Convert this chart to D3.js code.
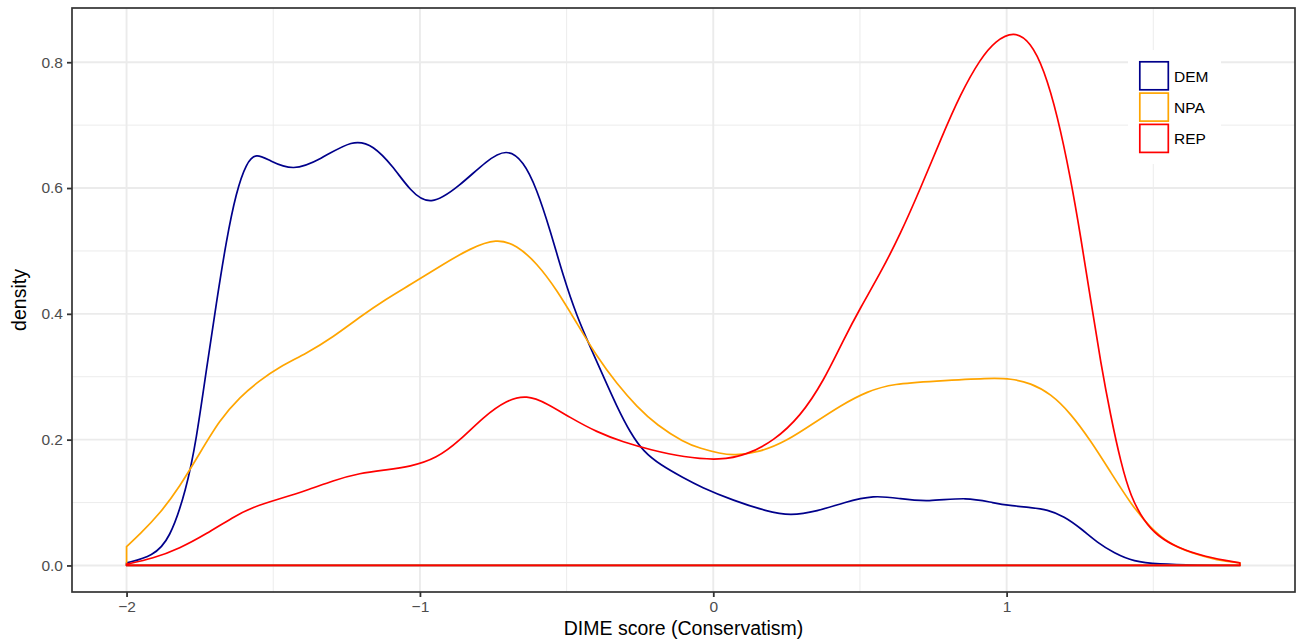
<!DOCTYPE html>
<html>
<head>
<meta charset="utf-8">
<script src="https://cdn.jsdelivr.net/npm/d3@7"></script>
<style>
  body { margin: 0; background: #fff; }
  text { font-family: "Liberation Sans", Arial, Helvetica, sans-serif; }
</style>
</head>
<body>
<svg id="chart" width="1298" height="642"></svg>
<script>
// density estimates, per party
var demX = [-2.0, -1.91, -1.853, -1.796, -1.762, -1.728, -1.694, -1.66, -1.626, -1.592,
  -1.558, -1.512, -1.432, -1.341, -1.228, -1.159, -1.091, -1.034, -0.966, -0.863,
  -0.772, -0.704, -0.647, -0.602, -0.556, -0.511, -0.465, -0.42, -0.374, -0.329,
  -0.283, -0.238, -0.181, -0.101, -0.044, 0.069, 0.183, 0.263, 0.354, 0.445,
  0.547, 0.638, 0.729, 0.866, 0.957, 1.019, 1.082, 1.139, 1.196, 1.253,
  1.31, 1.366, 1.434, 1.514, 1.65, 1.795];
var demY = [0.004, 0.015, 0.041, 0.121, 0.2, 0.311, 0.417, 0.517, 0.594, 0.640,
  0.656, 0.643, 0.627, 0.645, 0.678, 0.668, 0.634, 0.596, 0.570, 0.604,
  0.644, 0.663, 0.643, 0.599, 0.533, 0.459, 0.396, 0.348, 0.30, 0.253,
  0.211, 0.181, 0.160, 0.139, 0.125, 0.103, 0.086, 0.079, 0.086, 0.100,
  0.112, 0.106, 0.101, 0.109, 0.099, 0.095, 0.092, 0.089, 0.078, 0.059,
  0.036, 0.020, 0.006, 0.002, 0.0005, 0.0002];

var npaX = [-2.0, -1.956, -1.887, -1.819, -1.751, -1.683, -1.614, -1.546, -1.478, -1.387,
  -1.296, -1.205, -1.114, -1.034, -0.92, -0.829, -0.738, -0.67, -0.602, -0.533,
  -0.465, -0.397, -0.329, -0.26, -0.192, -0.101, -0.044, 0.024, 0.069, 0.16,
  0.251, 0.342, 0.433, 0.525, 0.615, 0.752, 0.945, 1.014, 1.082, 1.150,
  1.218, 1.287, 1.355, 1.423, 1.491, 1.560, 1.628, 1.719, 1.795];
var npaY = [0.030, 0.049, 0.082, 0.125, 0.178, 0.231, 0.268, 0.294, 0.316, 0.337,
  0.363, 0.395, 0.424, 0.446, 0.479, 0.504, 0.520, 0.509, 0.481, 0.438,
  0.385, 0.332, 0.289, 0.252, 0.223, 0.196, 0.186, 0.178, 0.175, 0.180,
  0.198, 0.226, 0.254, 0.277, 0.289, 0.293, 0.298, 0.297, 0.290, 0.273,
  0.242, 0.198, 0.148, 0.098, 0.059, 0.033, 0.020, 0.008, 0.004];

var repX = [-2.0, -1.91, -1.819, -1.728, -1.637, -1.569, -1.478, -1.387, -1.296, -1.205,
  -1.114, -1.034, -0.943, -0.863, -0.784, -0.704, -0.636, -0.568, -0.488, -0.397,
  -0.306, -0.215, -0.101, 0.024, 0.115, 0.206, 0.297, 0.376, 0.445, 0.502,
  0.570, 0.638, 0.706, 0.775, 0.843, 0.911, 0.962, 1.025, 1.082, 1.127,
  1.173, 1.218, 1.253, 1.287, 1.321, 1.355, 1.389, 1.423, 1.469, 1.514,
  1.583, 1.673, 1.795];
var repY = [0.002, 0.011, 0.027, 0.050, 0.077, 0.093, 0.106, 0.119, 0.135, 0.147,
  0.152, 0.157, 0.170, 0.199, 0.236, 0.263, 0.271, 0.258, 0.235, 0.212,
  0.196, 0.184, 0.172, 0.167, 0.176, 0.198, 0.237, 0.293, 0.360, 0.410,
  0.465, 0.527, 0.599, 0.677, 0.750, 0.806, 0.834, 0.850, 0.832, 0.789,
  0.716, 0.616, 0.521, 0.421, 0.321, 0.237, 0.164, 0.109, 0.070, 0.047,
  0.028, 0.014, 0.004];

var parties = ["DEM", "NPA", "REP"];
var partyColors = ["#00008B", "#FFA500", "#FF0000"];
var xTicks = [-2, -1, 0, 1];
var xMinor = [-1.5, -0.5, 0.5, 1.5];
var yTicks = [0, 0.2, 0.4, 0.6, 0.8];
var yMinor = [0.1, 0.3, 0.5, 0.7];

var series = [
  {name: "DEM", xs: demX, ys: demY},
  {name: "NPA", xs: npaX, ys: npaY},
  {name: "REP", xs: repX, ys: repY}
];

var panel = {left: 72, right: 1295, top: 8, bottom: 592};

var svg = d3.select("#chart");

var x = d3.scaleLinear().domain([-2.186, 1.983]).range([panel.left, panel.right]);
var y = d3.scaleLinear().domain([-0.0422, 0.8862]).range([panel.bottom, panel.top]);
var color = d3.scaleOrdinal().domain(parties).range(partyColors);

svg.append("defs").append("clipPath").attr("id", "clip")
  .append("rect")
    .attr("x", panel.left).attr("y", panel.top)
    .attr("width", panel.right - panel.left).attr("height", panel.bottom - panel.top);

var grid = svg.append("g");
// minor grid
grid.selectAll(".vminor").data(xMinor).enter().append("line")
  .attr("x1", function (d) { return x(d); }).attr("x2", function (d) { return x(d); })
  .attr("y1", panel.top).attr("y2", panel.bottom)
  .attr("stroke", "#EBEBEB").attr("stroke-width", 0.95);
grid.selectAll(".hminor").data(yMinor).enter().append("line")
  .attr("x1", panel.left).attr("x2", panel.right)
  .attr("y1", function (d) { return y(d); }).attr("y2", function (d) { return y(d); })
  .attr("stroke", "#EBEBEB").attr("stroke-width", 0.95);
// major grid
grid.selectAll(".vmajor").data(xTicks).enter().append("line")
  .attr("x1", function (d) { return x(d); }).attr("x2", function (d) { return x(d); })
  .attr("y1", panel.top).attr("y2", panel.bottom)
  .attr("stroke", "#EBEBEB").attr("stroke-width", 1.9);
grid.selectAll(".hmajor").data(yTicks).enter().append("line")
  .attr("x1", panel.left).attr("x2", panel.right)
  .attr("y1", function (d) { return y(d); }).attr("y2", function (d) { return y(d); })
  .attr("stroke", "#EBEBEB").attr("stroke-width", 1.9);

// density outlines, closed down to zero like geom_density
var line = d3.line()
  .x(function (d) { return x(d[0]); })
  .y(function (d) { return y(d[1]); })
  .curve(d3.curveBasis);

function densityPath(s) {
  var pts = s.xs.map(function (v, i) { return [v, s.ys[i]]; });
  var first = pts[0], last = pts[pts.length - 1];
  return "M" + x(first[0]) + "," + y(0) + "L" + line(pts).slice(1) +
    "L" + x(last[0]) + "," + y(0) + "Z";
}

svg.append("g").attr("clip-path", "url(#clip)")
  .selectAll("path").data(series).enter().append("path")
    .attr("d", densityPath)
    .attr("fill", "none")
    .attr("stroke", function (d) { return color(d.name); })
    .attr("stroke-width", 1.7)
    .attr("stroke-linejoin", "round");

// legend
var legend = svg.append("g").attr("transform", "translate(1128,50)");
legend.append("rect").attr("width", 93).attr("height", 114).attr("fill", "#fff");
var items = legend.selectAll(".item").data(parties).enter().append("g")
  .attr("transform", function (d, i) { return "translate(11," + (11 + i * 31.3) + ")"; });
items.append("rect")
  .attr("x", 0.8).attr("y", 0.8).attr("width", 28.5).attr("height", 28)
  .attr("fill", "none")
  .attr("stroke", function (d) { return color(d); })
  .attr("stroke-width", 1.7);
items.append("text")
  .attr("x", 35).attr("y", 15.3)
  .attr("dy", "0.36em")
  .style("font-size", "15.5px")
  .attr("fill", "#000")
  .text(function (d) { return d; });

// panel border
svg.append("rect")
  .attr("x", panel.left).attr("y", panel.top)
  .attr("width", panel.right - panel.left).attr("height", panel.bottom - panel.top)
  .attr("fill", "none").attr("stroke", "#333333").attr("stroke-width", 1.7);

// axes
var xAxis = svg.append("g")
  .attr("transform", "translate(0," + panel.bottom + ")")
  .call(d3.axisBottom(x).tickValues(xTicks).tickSize(5).tickPadding(4)
    .tickFormat(function (d) { return d < 0 ? "\u2212" + Math.abs(d) : d; }));
var yAxis = svg.append("g")
  .attr("transform", "translate(" + panel.left + ",0)")
  .call(d3.axisLeft(y).tickValues(yTicks).tickSize(5).tickPadding(4)
    .tickFormat(d3.format(".1f")));

[xAxis, yAxis].forEach(function (ax) {
  ax.select(".domain").remove();
  ax.selectAll(".tick line").attr("stroke", "#333333").attr("stroke-width", 1.8);
  ax.selectAll(".tick text")
    .attr("fill", "#4D4D4D")
    .style("font-size", "15.5px")
    .style("font-family", "'Liberation Sans', Arial, sans-serif");
});

// axis titles
svg.append("text")
  .attr("x", (panel.left + panel.right) / 2).attr("y", 635)
  .attr("text-anchor", "middle")
  .style("font-size", "19.5px")
  .text("DIME score (Conservatism)");

svg.append("text")
  .attr("transform", "translate(26," + ((panel.top + panel.bottom) / 2) + ") rotate(-90)")
  .attr("text-anchor", "middle")
  .style("font-size", "19.5px")
  .text("density");
</script>
</body>
</html>
